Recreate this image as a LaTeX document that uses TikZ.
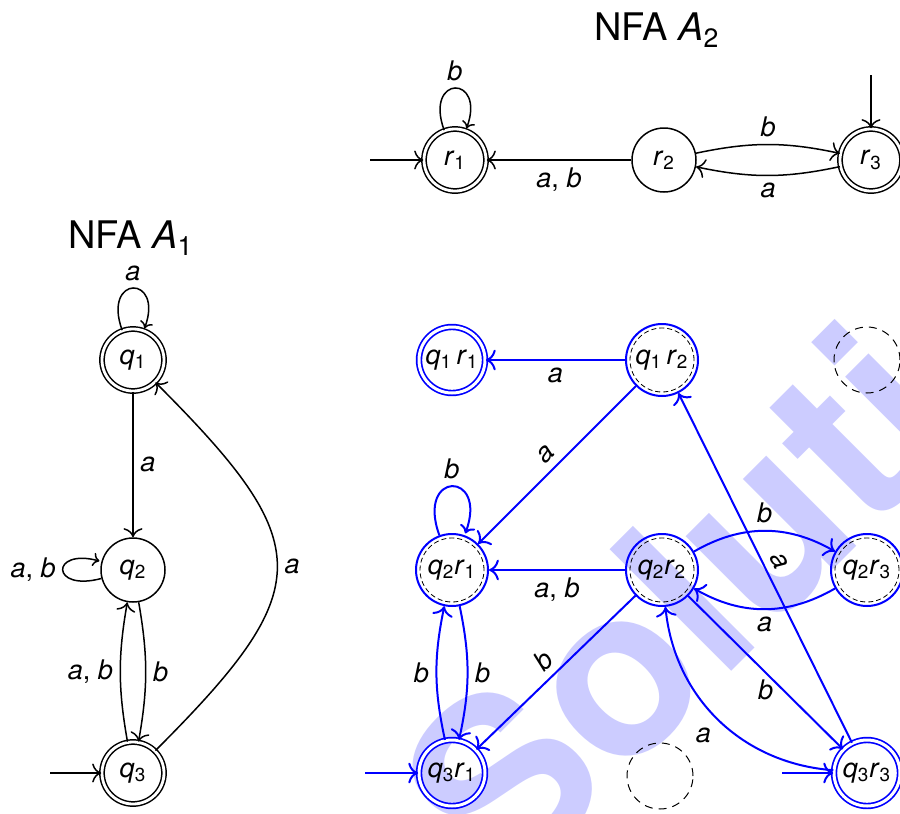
\documentclass[tikz,border=0pt]{standalone}
\usepackage{fontspec}
\setmainfont{TeX Gyre Heros}
\usetikzlibrary{arrows.meta}
\newcommand\sy[1]{\textit{#1}}
\newcommand\qs[2]{\textit{#1}\textsubscript{#2}}
\begin{document}
\begin{tikzpicture}[x=0.5pt,y=0.5pt,
  every node/.style={font=\fontsize{13.5}{16}\selectfont},
  st/.style={circle, draw, line width=0.75pt, minimum size=32pt, inner sep=0pt},
  acc/.style={st, double, double distance=1.4pt, minimum size=31pt},
  bst/.style={circle, draw=blue, line width=1pt, minimum size=36pt, inner sep=0pt},
  bdash/.style={bst, path picture={\draw[black, line width=0.4pt, dash pattern=on 2.5pt off 1.5pt] (path picture bounding box.center) circle (16pt);}},
  bacc/.style={circle, draw=blue, line width=0.85pt, double, double distance=1.5pt, minimum size=33pt, inner sep=0pt},
  ghost/.style={circle, draw, dash pattern=on 4pt off 3pt, line width=0.5pt, minimum size=33pt},
  tr/.style={-{To[scale=1.4]}, line width=0.75pt, black},
  btr/.style={-{To[scale=1.3]}, line width=1pt, blue, nodes={text=black}},
  bigloop/.style={out=110, in=70, loop, every loop/.append style={looseness=7}},
]
\useasboundingbox (0,0) rectangle (900,-814);
% watermark
\begin{scope}
\clip (0,0) rectangle (900,-814);
\node[rotate=45, anchor=base, text=blue!20, font=\fontsize{118}{120}\selectfont\bfseries, inner sep=0pt] (wm) at (841,-562) {Solution};
\end{scope}

% titles
\node[font=\fontsize{19}{22}\selectfont] (t2) at (657,-30) {NFA \textit{A}\textsubscript{2}};
\node[font=\fontsize{19}{22}\selectfont] (t1) at (131,-238) {NFA \textit{A}\textsubscript{1}};

% NFA A2
\node[acc] (r1) at (455,-160) {\qs{r}{1}};
\node[st]  (r2) at (664,-160) {\qs{r}{2}};
\node[acc] (r3) at (871,-160) {\qs{r}{3}};
\coordinate (r1in) at (370,-160);
\coordinate (r3in) at (871,-75);
\draw[tr] (r1in) -- (r1);
\draw[tr] (r3in) -- (r3);
\path (r1) edge[bigloop, tr] node[above] {\sy{b}} ();
\draw[tr] (r2) -- node[below] {\sy{a}, \sy{b}} (r1);
\draw[tr] (r2) to[bend left=12] node[above] {\sy{b}} (r3);
\draw[tr] (r3) to[bend left=12] node[below] {\sy{a}} (r2);

% NFA A1
\node[acc] (q1) at (133,-360) {\qs{q}{1}};
\node[st]  (q2) at (133,-570) {\qs{q}{2}};
\node[acc] (q3) at (133,-773) {\qs{q}{3}};
\coordinate (q3in) at (50,-773);
\draw[tr] (q3in) -- (q3);
\path (q1) edge[bigloop, tr] node[above] {\sy{a}} ();
\draw[tr] (q1) -- node[right] {\sy{a}} (q2);
\path (q2) edge[loop left, tr] node[left] {\sy{a}, \sy{b}} ();
\draw[tr] (q3) to[bend left=10] node[left] {\sy{a}, \sy{b}} (q2);
\draw[tr] (q2) to[bend left=10] node[right] {\sy{b}} (q3);
\draw[tr] (q3) to[bend right=45, looseness=1.6] node[right] {\sy{a}} (q1);

% product automaton
\node[bacc]  (q1r1) at (452,-360) {\qs{q}{1}\,\qs{r}{1}};
\node[bdash] (q1r2) at (662,-360) {\qs{q}{1}\,\qs{r}{2}};
\node[ghost] (g1)   at (867,-360) {};
\node[bdash] (q2r1) at (452,-570) {\qs{q}{2}\qs{r}{1}};
\node[bdash] (q2r2) at (662,-570) {\qs{q}{2}\qs{r}{2}};
\node[bdash] (q2r3) at (867,-570) {\qs{q}{2}\qs{r}{3}};
\node[bacc]  (q3r1) at (452,-773) {\qs{q}{3}\qs{r}{1}};
\node[ghost] (g2)   at (660,-776) {};
\node[bacc]  (q3r3) at (867,-773) {\qs{q}{3}\qs{r}{3}};
\coordinate (q3r1in) at (365,-773);
\coordinate (q3r3in) at (782,-773);
\draw[btr] (q3r1in) -- (q3r1);
\draw[btr] (q3r3in) -- (q3r3);

\draw[btr] (q1r2) -- node[below] {\sy{a}} (q1r1);
\draw[btr] (q1r2) -- node[sloped, above] {\sy{a}} (q2r1);
\path (q2r1) edge[bigloop, btr] node[above] {\sy{b}} ();
\draw[btr] (q2r2) -- node[below] {\sy{a}, \sy{b}} (q2r1);
\draw[btr] (q3r1) to[bend left=12] node[left] {\sy{b}} (q2r1);
\draw[btr] (q2r1) to[bend left=12] node[right] {\sy{b}} (q3r1);
\draw[btr] (q2r2) -- node[sloped, above] {\sy{b}} (q3r1);
\draw[btr] (q2r2) to[bend left=30] node[above] {\sy{b}} (q2r3);
\draw[btr] (q2r3) to[bend left=30] node[below] {\sy{a}} (q2r2);
\draw[btr] (q2r2) -- node[below] {\sy{b}} (q3r3);
\draw[btr] (q3r3) to[bend left=40] node[below left] {\sy{a}} (q2r2);
\draw[btr] (q3r3) -- node[sloped, above] {\sy{a}} (q1r2);
\end{tikzpicture}
\end{document}
